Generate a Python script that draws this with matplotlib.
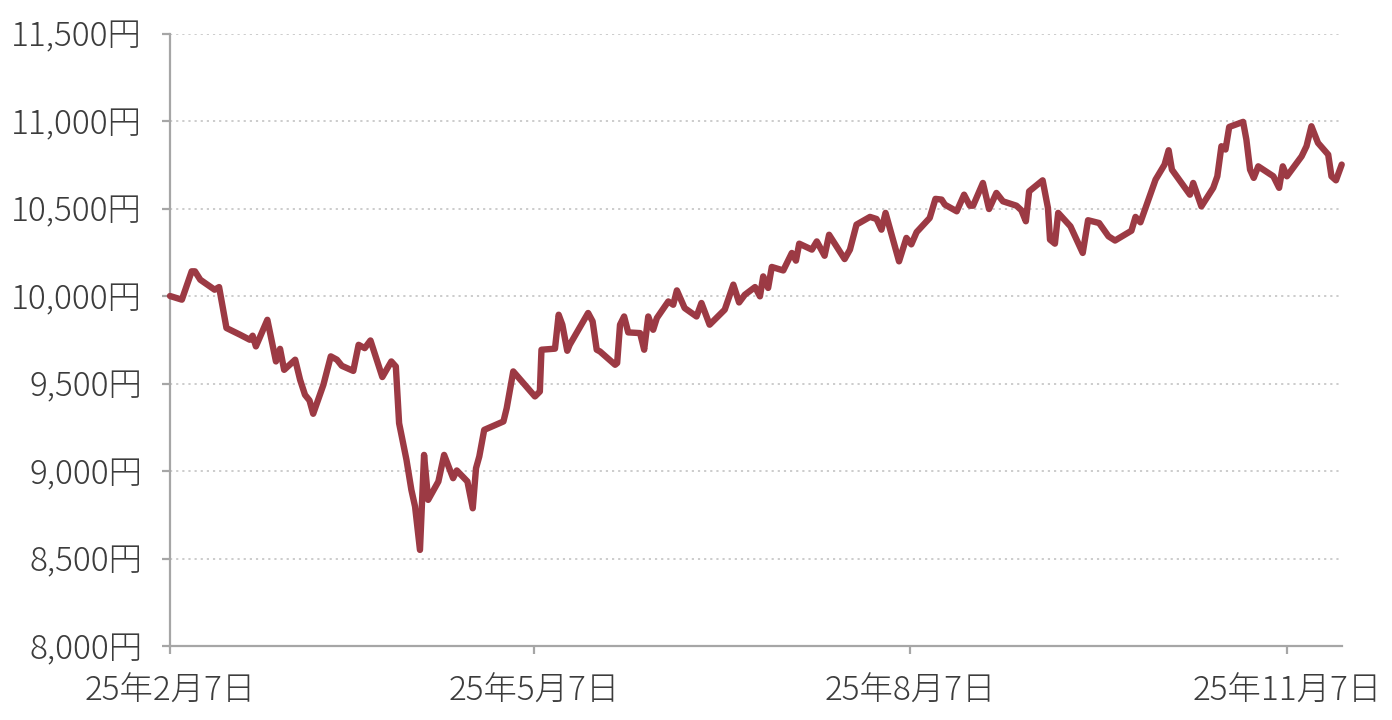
import matplotlib
matplotlib.use("Agg")
import matplotlib.pyplot as plt
import matplotlib.dates as mdates
from matplotlib.ticker import FixedLocator, FuncFormatter
import numpy as np
import datetime as dt

plt.rcParams['font.family'] = ['Noto Sans CJK JP', 'DejaVu Sans']

start_date = dt.datetime(2025, 2, 7)

# days elapsed since 2025-02-07
days = [0, 2.9, 5.3, 6.1, 7.4, 10.9, 12.0, 13.8, 17.1, 19.5, 20.2, 21.0, 23.8, 25.9, 26.9, 27.9,
        30.6, 31.8, 33.0, 34.1, 35.0, 37.5, 39.3, 40.8, 42.0, 44.8, 46.1, 47.6, 49.0, 51.9, 54.1,
        55.2, 56.0, 57.8, 59.0, 59.9, 61.1, 62.1, 63.1, 65.6, 67.0, 69.2, 70.1, 72.7, 74.0, 74.8,
        75.6, 76.8, 81.5, 82.3, 83.9, 89.2, 90.4, 90.8, 94.1, 95.0, 95.9, 97.1, 97.7, 102.2, 103.3,
        104.3, 105.1, 108.8, 109.3, 110.0, 111.0, 112.0, 114.9, 115.9, 116.9, 118.1, 119.0, 121.8,
        123.0, 123.9, 125.8, 128.7, 129.9, 131.9, 135.6, 137.7, 139.1, 140.5, 143.0, 144.2, 145.0,
        146.2, 147.1, 149.9, 152.0, 153.0, 153.8, 156.9, 158.1, 160.0, 161.1, 164.9, 166.2, 167.8,
        171.1, 172.7, 173.9, 174.9, 178.2, 180.0, 181.2, 182.5, 185.7, 187.1, 188.6, 189.4, 192.3,
        194.1, 195.5, 196.3, 198.7, 200.2, 202.0, 203.6, 206.9, 208.1, 209.2, 210.0, 213.3, 214.6,
        215.1, 216.3, 217.1, 220.1, 221.6, 223.1, 224.4, 227.1, 229.4, 231.0, 235.0, 236.0, 237.2,
        240.9, 243.1, 244.1, 244.9, 249.3, 250.1, 252.1, 255.0, 256.0, 257.0, 258.0, 258.9, 262.3,
        263.1, 264.0, 264.9, 266.0, 269.7, 271.1, 272.0, 273.0, 276.6, 277.8, 279.0, 280.6, 283.1,
        283.9, 285.0, 286.4]

# price in yen
values = [10000, 9979, 10141, 10141, 10093, 10036, 10051, 9817, 9779, 9750, 9773, 9712, 9864, 9626,
          9698, 9578, 9636, 9521, 9435, 9403, 9327, 9493, 9655, 9636, 9601, 9572, 9721, 9702, 9746,
          9537, 9626, 9597, 9273, 9064, 8892, 8797, 8549, 9092, 8835, 8940, 9092, 8959, 9003, 8940,
          8787, 9016, 9083, 9235, 9283, 9359, 9569, 9426, 9454, 9693, 9699, 9893, 9836, 9687, 9721,
          9903, 9855, 9693, 9683, 9607, 9617, 9836, 9883, 9792, 9788, 9693, 9883, 9807, 9874, 9969,
          9950, 10032, 9931, 9883, 9960, 9836, 9922, 10065, 9963, 10007, 10051, 9998, 10112, 10046,
          10166, 10146, 10246, 10202, 10299, 10265, 10312, 10230, 10350, 10211, 10265, 10408, 10452,
          10440, 10379, 10475, 10198, 10332, 10295, 10365, 10446, 10555, 10551, 10522, 10484, 10579,
          10516, 10516, 10646, 10497, 10589, 10541, 10516, 10490, 10427, 10598, 10661, 10503, 10322,
          10299, 10475, 10398, 10322, 10246, 10433, 10417, 10341, 10317, 10373, 10452, 10421, 10665,
          10751, 10833, 10722, 10579, 10646, 10512, 10618, 10684, 10856, 10837, 10966, 10995, 10894,
          10722, 10675, 10741, 10684, 10618, 10741, 10684, 10798, 10856, 10970, 10875, 10808, 10684,
          10661, 10751]

tick_dates = ["2025-02-07", "2025-05-07", "2025-08-07", "2025-11-07"]
tick_labels = ["25年2月7日", "25年5月7日", "25年8月7日", "25年11月7日"]
y_ticks = [8000, 8500, 9000, 9500, 10000, 10500, 11000, 11500]

line_color = "#9C3A44"
text_color = "#3c3c3c"
spine_color = "#a6a6a6"

x0 = mdates.date2num(start_date)
xs = x0 + np.array(days)

fig = plt.figure(figsize=(13.92, 7.2), dpi=100)
ax = fig.add_axes([170 / 1392, 1 - 646 / 720, (1341.7 - 170) / 1392, (646 - 33.5) / 720])

ax.plot(xs, values, color=line_color, lw=4.6, solid_joinstyle='round', solid_capstyle='round',
        zorder=3, clip_on=False)

ax.set_xlim(x0, x0 + days[-1])
ax.set_ylim(8000, 11500)

ax.yaxis.set_major_locator(FixedLocator(y_ticks))
ax.yaxis.set_major_formatter(FuncFormatter(lambda v, p: f"{int(v):,}円"))
tick_nums = [mdates.date2num(dt.datetime.strptime(d, "%Y-%m-%d")) for d in tick_dates]
ax.set_xticks(tick_nums)
ax.set_xticklabels(tick_labels)

ax.grid(axis='y', linestyle=(0, (1.2, 2.2)), color="#c8c8c8", lw=1.3, zorder=1)
ax.grid(axis='x', visible=False)

for s in ['top', 'right']:
    ax.spines[s].set_visible(False)
for s in ['left', 'bottom']:
    ax.spines[s].set_color(spine_color)
    ax.spines[s].set_linewidth(1.6)

ax.tick_params(axis='y', direction='out', length=6, width=1.6, color=spine_color,
               labelsize=24, labelcolor=text_color, pad=14)
ax.tick_params(axis='x', direction='out', length=6, width=1.6, color=spine_color,
               labelsize=24, labelcolor=text_color, pad=14)
for lab in ax.get_xticklabels() + ax.get_yticklabels():
    lab.set_fontweight('light')

fig.savefig("out.png", dpi=100, facecolor="white")
